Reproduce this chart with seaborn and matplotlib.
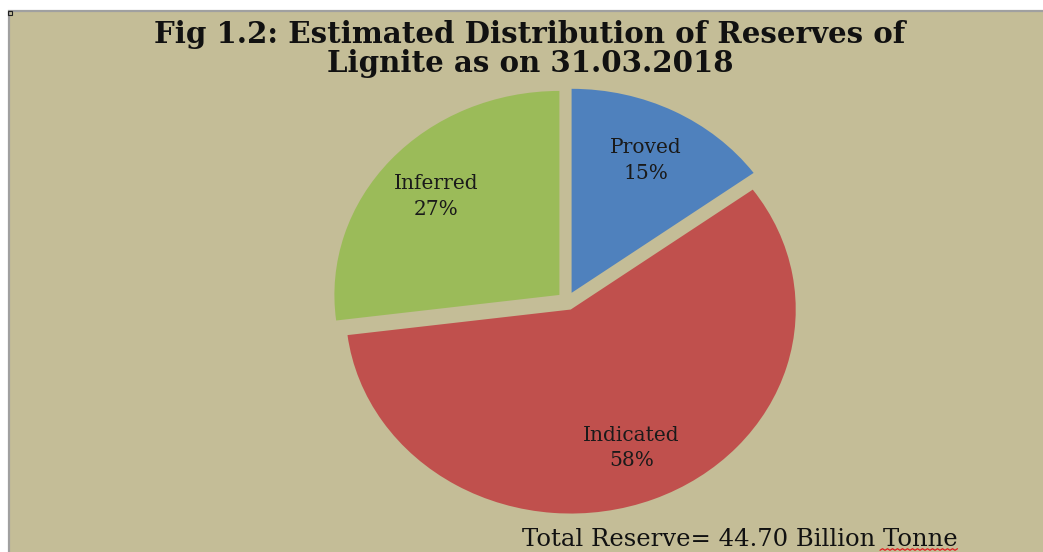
import matplotlib
matplotlib.use("Agg")
import matplotlib.pyplot as plt
import seaborn as sns
from matplotlib.patches import Rectangle
from matplotlib.lines import Line2D

# Lignite reserve categories and their shares (%)
categories = ["Proved", "Indicated", "Inferred"]
shares = [15, 58, 27]
colors = ["#4F81BD", "#C0504D", "#9BBB59"]

title = "Fig 1.2: Estimated Distribution of Reserves of\nLignite as on 31.03.2018"
footnote = "Total Reserve= 44.70 Billion Tonne"

sns.set_theme(style="white")
plt.rcParams["font.family"] = ["DejaVu Serif", "DejaVu Sans"]

W, H = 1043, 552
fig = plt.figure(figsize=(W / 100, H / 100), dpi=100)
fig.patch.set_facecolor("white")

# chart area panel
fig.patches.append(Rectangle((9 / W, -0.02), 1.05, (H - 11) / H + 0.02,
                             transform=fig.transFigure, facecolor="#C4BD97",
                             edgecolor="#A0A0A0", linewidth=1.6, zorder=0))
fig.patches.append(Rectangle((8 / W, (H - 15) / H), 4 / W, 4 / H,
                             transform=fig.transFigure, facecolor="none",
                             edgecolor="#202020", linewidth=0.8, zorder=1))

ax = fig.add_axes([0, 0, 1, 1])
ax.set_facecolor("none")
ax.set_zorder(2)

idx = {"i": 0}


def fmt(pct):
    name = categories[idx["i"]]
    val = shares[idx["i"]]
    idx["i"] += 1
    return f"{name}\n{val}%"


wedges, texts, autotexts = ax.pie(
    shares,
    colors=colors,
    startangle=90,
    counterclock=False,
    explode=[0.045, 0.045, 0.045],
    autopct=fmt,
    pctdistance=0.73,
    radius=1.0,
    wedgeprops=dict(linewidth=0),
)
for t in autotexts:
    t.set_fontsize(14.5)
    t.set_color("#1a1a1a")
    t.set_linespacing(1.45)

# pie centre near (567, 301) px with radii 225 x 204 px
cx, cy, rx, ry = 567, H - 301, 225, 204
ax.set_aspect("auto")
ax.set_xlim(-cx / rx, (W - cx) / rx)
ax.set_ylim(-cy / ry, (H - cy) / ry)
ax.axis("off")

fig.text(530 / W, 1 - 49 / H, title, ha="center", va="center",
         fontsize=21.1, fontweight="bold", family="DejaVu Serif",
         linespacing=1.04, color="#111111", zorder=3)

fig.text(522 / W, 6 / H, footnote, ha="left", va="baseline",
         fontsize=17.5, family="DejaVu Serif", color="#111111", zorder=3)

# wavy spell-check mark under the last word
xs = [880 + 2.5 * k for k in range(32)]
ys = [2.5 + (0.8 if k % 2 else -0.8) for k in range(32)]
fig.lines.append(Line2D([x / W for x in xs], [y / H for y in ys],
                        transform=fig.transFigure, color="#E02020", lw=0.9,
                        zorder=3))

fig.savefig("out.png", dpi=100, facecolor=fig.get_facecolor())
